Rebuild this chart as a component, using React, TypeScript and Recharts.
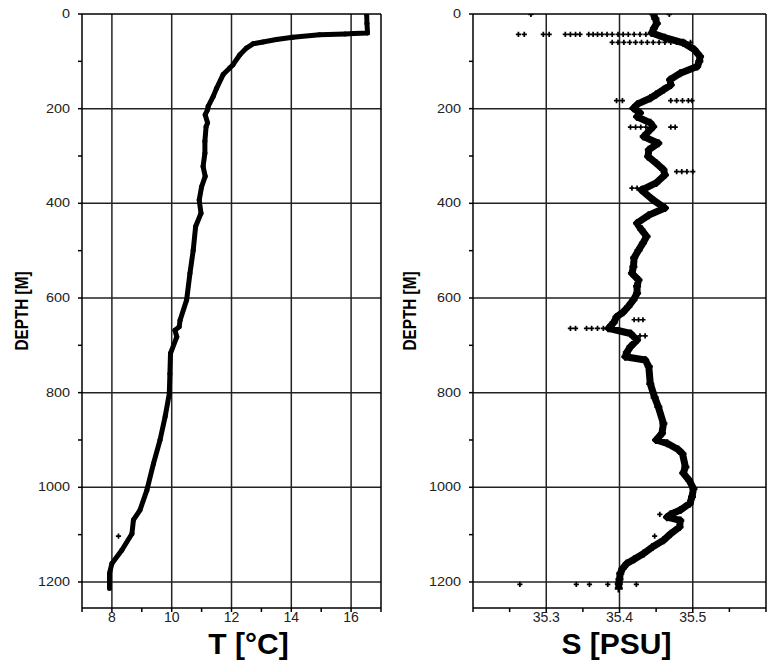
import { ScatterChart, Scatter, XAxis, YAxis, ReferenceLine } from "recharts";

// depth axis (shared by both panels)
const depthTicks = [0, 100, 200, 300, 400, 500, 600, 700, 800, 900, 1000, 1100, 1200];
const depthGrid = [200, 400, 600, 800, 1000, 1200];

// temperature panel
const tempTicks = [7, 8, 9, 10, 11, 12, 13, 14, 15, 16, 17];
const tempLabels = [8, 10, 12, 14, 16];
const tempGrid = [8, 10, 12, 14, 16];

const tempDepth = [
  0, 20, 40, 41, 42, 44, 49, 54, 59, 63, 72, 86, 107, 114, 128, 157, 174, 195, 202, 213,
  230, 238, 269, 294, 322, 343, 365, 393, 421, 449, 499, 548, 604, 647, 661, 668, 682, 717,
  760, 802, 851, 900, 950, 1006, 1048, 1069, 1098, 1133, 1161, 1182, 1200, 1214,
];
const tempValue = [
  16.52, 16.53, 16.55, 16.1, 15.8, 14.94, 14.05, 13.5, 13.05, 12.72, 12.5, 12.28, 12.05, 11.94,
  11.72, 11.5, 11.39, 11.22, 11.2, 11.12, 11.2, 11.15, 11.11, 11.11, 11.05, 11.12, 11.0, 10.92,
  10.98, 10.8, 10.72, 10.61, 10.5, 10.28, 10.25, 10.11, 10.17, 9.96, 9.94, 9.92, 9.78, 9.61,
  9.39, 9.17, 8.94, 8.72, 8.67, 8.33, 8.0, 7.92, 7.92, 7.92,
];
const tempOutDepth = [1103];
const tempOutValue = [8.22];

// salinity panel
const salTicks = [35.2, 35.25, 35.3, 35.35, 35.4, 35.45, 35.5, 35.55, 35.6];
const salLabels = [35.3, 35.4, 35.5];
const salGrid = [35.3, 35.4, 35.5];

const salDepth = [
  0, 10, 20, 30, 40, 50, 61, 75, 90, 100, 111, 125, 139, 150, 160, 170, 178, 190, 199, 209,
  217, 230, 238, 259, 273, 287, 301, 315, 329, 340, 357, 372, 393, 410, 425, 442, 456, 470,
  484, 499, 515, 534, 548, 562, 575, 590, 604, 618, 630, 640, 652, 664, 675, 689, 703, 715,
  724, 731, 745, 781, 810, 830, 865, 886, 900, 907, 920, 929, 957, 970, 985, 1003, 1020, 1034,
  1048, 1057, 1063, 1070, 1084, 1098, 1112, 1126, 1140, 1152, 1161, 1172, 1182, 1194, 1204, 1214,
];
const salValue = [
  35.446, 35.449, 35.451, 35.447, 35.444, 35.462, 35.487, 35.502, 35.51, 35.509, 35.506, 35.483,
  35.469, 35.47, 35.46, 35.45, 35.442, 35.425, 35.419, 35.428, 35.424, 35.442, 35.446, 35.433,
  35.453, 35.44, 35.439, 35.45, 35.46, 35.462, 35.45, 35.43, 35.446, 35.462, 35.44, 35.424,
  35.43, 35.437, 35.432, 35.426, 35.42, 35.419, 35.417, 35.426, 35.424, 35.424, 35.419, 35.412,
  35.405, 35.396, 35.392, 35.385, 35.415, 35.424, 35.415, 35.41, 35.408, 35.435, 35.44, 35.442,
  35.448, 35.453, 35.46, 35.458, 35.45, 35.465, 35.48, 35.486, 35.49, 35.487, 35.495, 35.501,
  35.499, 35.496, 35.483, 35.47, 35.465, 35.483, 35.482, 35.47, 35.46, 35.445, 35.433, 35.42,
  35.41, 35.404, 35.401, 35.4, 35.399, 35.399,
];

const salOutDepth = [
  1, 1,
  43, 43, 43, 43, 43, 43, 43, 43, 43, 43, 43, 43, 43, 43, 43, 43, 43, 43, 43, 43,
  60, 60, 60, 60, 60, 60, 60, 60, 60, 60, 60, 60, 60, 60,
  183, 183, 183, 183, 183, 183, 183,
  239, 239, 239, 239, 239, 239,
  333, 333, 333, 333,
  368, 368, 368,
  646, 646, 646,
  664, 664, 664, 664, 664, 664,
  680, 680, 680,
  1057, 1103,
  1205, 1205, 1205, 1205, 1205,
];
const salOutValue = [
  35.279, 35.468,
  35.262, 35.27, 35.296, 35.304, 35.326, 35.333, 35.34, 35.346, 35.358, 35.364, 35.37, 35.376,
  35.383, 35.39, 35.398, 35.405, 35.412, 35.42, 35.428, 35.436,
  35.39, 35.398, 35.406, 35.414, 35.422, 35.43, 35.438, 35.446, 35.454, 35.462, 35.47, 35.478,
  35.49, 35.497,
  35.396, 35.404, 35.47, 35.478, 35.486, 35.494, 35.499,
  35.415, 35.422, 35.429, 35.436, 35.47, 35.476,
  35.478, 35.485, 35.492, 35.5,
  35.417, 35.424, 35.431,
  35.42, 35.426, 35.432,
  35.333, 35.34, 35.355, 35.362, 35.37, 35.378,
  35.42, 35.428, 35.435,
  35.455, 35.448,
  35.264, 35.341, 35.359, 35.384, 35.423,
];

const FONT = "'Liberation Sans', Arial, sans-serif";

const zip = (xs: number[], ds: number[]) => xs.map((v, i) => ({ v, depth: ds[i] }));

function DepthTick(props: any) {
  const { x, y, payload } = props;
  if (payload.value % 200 !== 0) return <g />;
  return (
    <text
      transform={`translate(${x},${y}) scale(1.2,1)`}
      textAnchor="end"
      dominantBaseline="central"
      fontSize={12}
      fontFamily={FONT}
      fill="#222"
    >
      {payload.value}
    </text>
  );
}

const makeValueTick = (labels: number[]) => (props: any) => {
  const { x, y, payload } = props;
  if (!labels.some((l) => Math.abs(l - payload.value) < 1e-6)) return <g />;
  return (
    <text x={x} y={y} dy="0.71em" textAnchor="middle" fontSize={14} fontFamily={FONT} fill="#222">
      {payload.value}
    </text>
  );
};

const makeTitle = (text: string, dx: number) => (props: any) => {
  const vb = props.viewBox;
  return (
    <text
      x={vb.x + vb.width / 2 + dx}
      y={vb.y + 46}
      textAnchor="middle"
      fontSize={30}
      fontWeight="bold"
      fontFamily={FONT}
      fill="#000"
    >
      {text}
    </text>
  );
};

const depthTitle = (props: any) => {
  const vb = props.viewBox;
  const cx = vb.x + 22;
  const cy = vb.y + vb.height / 2;
  return (
    <text
      transform={`translate(${cx},${cy}) rotate(-90) scale(0.85,1)`}
      textAnchor="middle"
      dominantBaseline="central"
      fontSize={18}
      fontWeight="bold"
      fontFamily={FONT}
      fill="#000"
    >
      DEPTH [M]
    </text>
  );
};

const dot = (props: any) => <circle cx={props.cx} cy={props.cy} r={2.5} fill="#000" />;
const cross = (r: number, w: number) => (props: any) => {
  const { cx, cy } = props;
  return (
    <path d={`M${cx - r},${cy}H${cx + r}M${cx},${cy - r}V${cy + r}`} stroke="#000" strokeWidth={w} />
  );
};

interface PanelProps {
  title: string;
  titleDx: number;
  domain: [number, number];
  ticks: number[];
  labels: number[];
  grid: number[];
  yAxisWidth: number;
  rightMargin: number;
  main: { v: number; depth: number }[];
  extra: { v: number; depth: number }[];
  lineWidth: number;
  mainShape: any;
}

function Panel(p: PanelProps) {
  return (
    <ScatterChart
      width={388}
      height={666}
      margin={{ top: 14, right: p.rightMargin, bottom: 0, left: 0 }}
    >
      <XAxis
        type="number"
        dataKey="v"
        domain={p.domain}
        ticks={p.ticks}
        interval={0}
        allowDataOverflow
        height={58}
        tickSize={4}
        tickMargin={0}
        axisLine={{ stroke: "#000", strokeWidth: 1.5 }}
        tickLine={{ stroke: "#000", strokeWidth: 1.5 }}
        tick={makeValueTick(p.labels)}
        label={makeTitle(p.title, p.titleDx)}
      />
      <YAxis
        type="number"
        dataKey="depth"
        reversed
        domain={[0, 1255]}
        ticks={depthTicks}
        interval={0}
        allowDataOverflow
        width={p.yAxisWidth}
        tickSize={4}
        tickMargin={8}
        axisLine={{ stroke: "#000", strokeWidth: 1.5 }}
        tickLine={{ stroke: "#000", strokeWidth: 1.5 }}
        tick={DepthTick}
        label={depthTitle}
      />
      {p.grid.map((g) => (
        <ReferenceLine key={`gx${g}`} x={g} stroke="#222" strokeWidth={1.5} />
      ))}
      {depthGrid.map((g) => (
        <ReferenceLine key={`gy${g}`} y={g} stroke="#222" strokeWidth={1.5} />
      ))}
      <ReferenceLine y={0} stroke="#000" strokeWidth={1.5} />
      <ReferenceLine x={p.domain[1]} stroke="#000" strokeWidth={1.5} />
      <Scatter
        data={p.main}
        fill="#000"
        line={{ stroke: "#000", strokeWidth: p.lineWidth, strokeLinejoin: "round" }}
        shape={p.mainShape}
        isAnimationActive={false}
      />
      <Scatter data={p.extra} fill="#000" shape={cross(2.6, 1.7)} isAnimationActive={false} />
    </ScatterChart>
  );
}

export default function App() {
  return (
    <div
      style={{
        position: "absolute",
        left: 0,
        top: 0,
        width: 776,
        height: 666,
        background: "#fff",
        display: "flex",
      }}
    >
      <Panel
        title="T [°C]"
        titleDx={17}
        domain={[7, 17]}
        ticks={tempTicks}
        labels={tempLabels}
        grid={tempGrid}
        yAxisWidth={82}
        rightMargin={7}
        main={zip(tempValue, tempDepth)}
        extra={zip(tempOutValue, tempOutDepth)}
        lineWidth={5}
        mainShape={dot}
      />
      <Panel
        title="S [PSU]"
        titleDx={-3}
        domain={[35.2, 35.6]}
        ticks={salTicks}
        labels={salLabels}
        grid={salGrid}
        yAxisWidth={85}
        rightMargin={10}
        main={zip(salValue, salDepth)}
        extra={zip(salOutValue, salOutDepth)}
        lineWidth={7}
        mainShape={cross(4, 2.5)}
      />
    </div>
  );
}
